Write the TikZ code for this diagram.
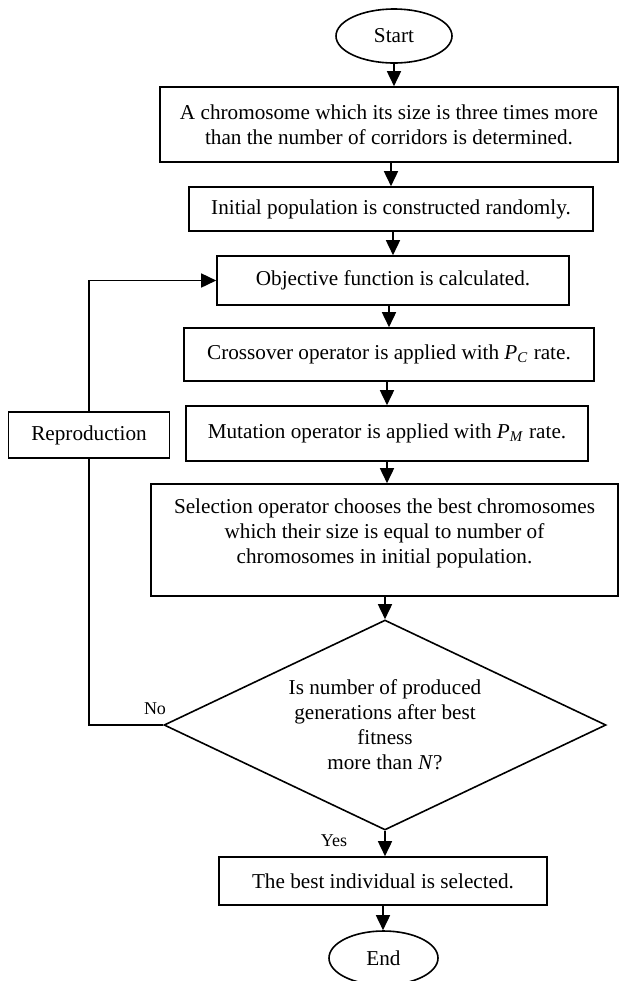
\documentclass[tikz,border=0pt]{standalone}
\usepackage{fontspec}
\setmainfont{Liberation Serif}
\usetikzlibrary{shapes.geometric,arrows.meta}
\begin{document}
\begin{tikzpicture}[
      x=0.5pt,
      y=-0.5pt,
      line width=0.8pt,
      every node/.style={font=\fontsize{10.6}{12.5}\selectfont, align=center},
      box/.style={draw, rectangle, inner sep=0pt},
      term/.style={draw, ellipse, inner sep=0pt},
      decision/.style={draw, diamond, aspect=2.1, inner sep=0pt,
        minimum width=221pt, minimum height=105pt},
      answer/.style={font=\fontsize{9}{11}\selectfont},
      flow/.style={-{Triangle[length=7.5pt,width=7pt]}}]
    \useasboundingbox (0,0) rectangle (619,981);

    \node [term, minimum width=58pt, minimum height=27pt] (start) at (394, 36) {Start};
    \node [box, minimum width=229pt, minimum height=37.5pt] (chrom) at (389,124.5)
      {A chromosome which its size is three times more\\than the number of corridors is determined.};
    \node [box, minimum width=201.75pt, minimum height=22pt] (init) at (391,209)
      {Initial population is constructed randomly.};
    \node [box, minimum width=176pt, minimum height=24.5pt] (objfun) at (393,280.5)
      {Objective function is calculated.};
    \node [box, minimum width=205pt, minimum height=26.5pt] (cross) at (389,354.5)
      {Crossover operator is applied with \textit{P}\textsubscript{\textit{C}} rate.};
    \node [box, minimum width=201pt, minimum height=27.5pt] (mut) at (387,433.5)
      {Mutation operator is applied with \textit{P}\textsubscript{\textit{M}} rate.};
    \node [box, minimum width=233.5pt, minimum height=56pt,
      label={[yshift=3.5pt]center:Selection operator chooses the best chromosomes\\which their size is equal to number of\\chromosomes in initial population.}]
      (select) at (384.5,540) {};
    \node [decision] (decide) at (385,725)
      {Is number of produced\\generations after best\\fitness\\more than \textit{N}?};
    \node [box, minimum width=164pt, minimum height=24pt] (final) at (383,881)
      {The best individual is selected.};
    \node [term, minimum width=54.5pt, minimum height=27pt] (endnode) at (383.5,958) {End};

    \node [box, minimum width=80.5pt, minimum height=23pt] (repro) at (89,435) {Reproduction};
    \node [answer] (no)  at (155,709) {No};
    \node [answer] (yes) at (334,841) {Yes};

    \draw [flow] (start) -- (start |- chrom.north);
    \draw [flow] (init.north |- chrom.south) -- (init.north);
    \draw [flow] (objfun.north |- init.south) -- (objfun.north);
    \draw [flow] (cross.north |- objfun.south) -- (cross.north);
    \draw [flow] (mut.north |- cross.south) -- (mut.north);
    \draw [flow] (mut.south) -- (mut.south |- select.north);
    \draw [flow] (decide.north |- select.south) -- (decide.north);
    \draw [flow] (decide.south) -- (decide.south |- final.north);
    \draw [flow] (final.south) -- (final.south |- endnode.north);

    \draw (decide.west) -| (repro.south);
    \draw [flow] (repro.north) |- (objfun.west);

  \end{tikzpicture}
\end{document}
